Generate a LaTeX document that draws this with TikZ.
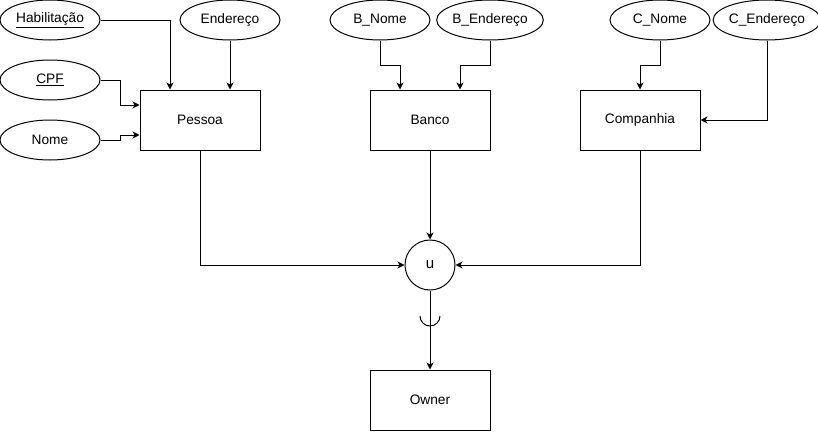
\documentclass[tikz,border=0pt]{standalone}
\usepackage{fontspec}
\setmainfont{Liberation Sans}
\usetikzlibrary{shapes.geometric,arrows.meta}
\begin{document}
\begin{tikzpicture}[x=1pt,y=-1pt,line width=1pt,
  attr/.style={draw,ellipse,minimum width=100pt,minimum height=40pt,inner sep=0pt,font=\fontsize{13.7}{16}\selectfont},
  ent/.style={draw,rectangle,minimum width=120pt,minimum height=60pt,inner sep=0pt,font=\fontsize{13.7}{16}\selectfont},
  arr/.style={-{Stealth[length=7pt,width=7pt,inset=2pt]}}]
\useasboundingbox (0,0) rectangle (818,431);
\node[attr] (hab) at (50,20) {\underline{Habilitação}};
\node[attr] (end) at (230,20) {Endereço};
\node[attr] (cpf) at (50,80) {\underline{CPF}};
\node[attr] (nome) at (50,140) {Nome};
\node[ent] (pessoa) at (200,120) {Pessoa};
\node[attr] (bnome) at (380,20) {B\_Nome};
\node[attr] (bend) at (490,20) {B\_Endereço};
\node[ent] (banco) at (430,120) {Banco};
\node[attr] (cnome) at (660,20) {C\_Nome};
\node[attr] (cend) at (767,20) {C\_Endereço};
\node[ent] (comp) at (640,120) {Companhia};
\node[draw,circle,minimum size=50pt,inner sep=0pt,font=\fontsize{15}{18}\selectfont] (u) at (430,265) {u};
\node[ent] (owner) at (430,400) {Owner};
\coordinate (cup) at (430,316);
\draw[arr] (hab.east) -| ([xshift=-30pt]pessoa.north);
\draw[arr] (end.south) -- (end.south |- pessoa.north);
\draw[arr] (cpf.east) -- ++(20,0) |- ([yshift=15pt]pessoa.west);
\draw[arr] (nome.east) -- ++(20,0) |- ([yshift=-15pt]pessoa.west);
\draw[arr] (bnome.south) -- ++(0,25) -| ([xshift=-30pt]banco.north);
\draw[arr] (bend.south) -- ++(0,25) -| ([xshift=30pt]banco.north);
\draw[arr] (cnome.south) -- ++(0,25) -| (comp.north);
\draw[arr] (cend.south) |- (comp.east);
\draw[arr] (pessoa.south) |- (u.west);
\draw[arr] (banco.south) -- (u.north);
\draw[arr] (comp.south) |- (u.east);
\draw[arr] (u.south) -- (owner.north);
\draw[line width=1pt] ([xshift=-10pt]cup) arc[start angle=180,end angle=360,radius=10pt];
\end{tikzpicture}
\end{document}
